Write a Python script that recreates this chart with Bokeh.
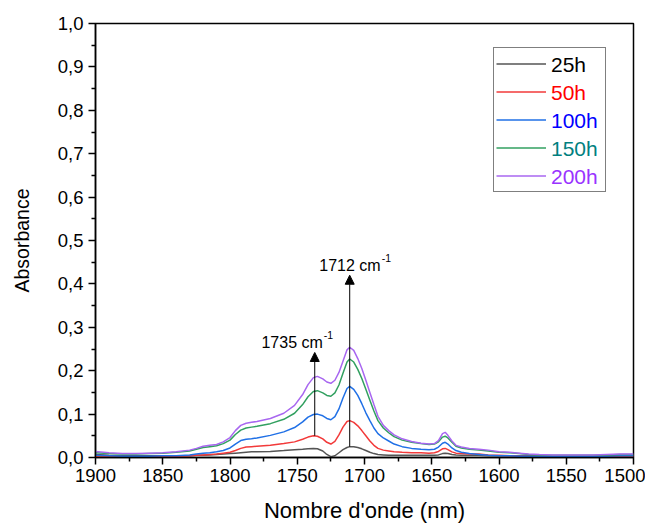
from bokeh.plotting import figure
from bokeh.models import (Range1d, Legend, LegendItem, Arrow, NormalHead, FixedTicker,
                          CustomJSTickFormatter, ColumnDataSource)
from bokeh.core.properties import value
from bokeh.embed import file_html
from bokeh.resources import INLINE

FONT = "Liberation Sans"

# ---------------- data ----------------
wavenumber = [1900, 1890, 1880, 1870, 1860, 1850, 1840, 1830, 1825, 1820, 1815, 1810, 1805, 1800,
              1796, 1792, 1788, 1784, 1780, 1770, 1760, 1752, 1746, 1742, 1738, 1735, 1731, 1728,
              1725, 1722, 1719, 1716, 1713, 1711, 1708, 1705, 1702, 1699, 1696, 1693, 1690, 1686,
              1682, 1678, 1672, 1665, 1658, 1652, 1648, 1645, 1642, 1640, 1638, 1635, 1632, 1628,
              1622, 1615, 1608, 1600, 1592, 1585, 1578, 1570, 1560, 1550, 1540, 1530, 1520, 1510, 1500]

abs_25h = [0.007, 0.005, 0.004, 0.004, 0.004, 0.004, 0.004, 0.004, 0.005, 0.005, 0.006, 0.007, 0.008, 0.009,
           0.010, 0.011, 0.012, 0.013, 0.013, 0.014, 0.016, 0.018, 0.019, 0.020, 0.021, 0.020, 0.015, 0.007,
           0.002, 0.004, 0.011, 0.018, 0.023, 0.025, 0.025, 0.023, 0.020, 0.016, 0.012, 0.009, 0.007, 0.006,
           0.005, 0.005, 0.005, 0.005, 0.005, 0.005, 0.005, 0.006, 0.009, 0.010, 0.009, 0.007, 0.006, 0.005,
           0.005, 0.005, 0.004, 0.004, 0.004, 0.004, 0.004, 0.004, 0.004, 0.004, 0.004, 0.004, 0.004, 0.004, 0.004]

abs_50h = [0.003, 0.002, 0.002, 0.002, 0.002, 0.003, 0.003, 0.004, 0.005, 0.006, 0.007, 0.008, 0.010, 0.012,
           0.016, 0.021, 0.024, 0.025, 0.026, 0.028, 0.032, 0.036, 0.042, 0.047, 0.050, 0.049, 0.043, 0.035,
           0.031, 0.037, 0.052, 0.070, 0.083, 0.085, 0.081, 0.073, 0.062, 0.050, 0.038, 0.028, 0.021, 0.017,
           0.015, 0.013, 0.012, 0.011, 0.011, 0.010, 0.011, 0.014, 0.020, 0.021, 0.018, 0.013, 0.010, 0.009,
           0.008, 0.008, 0.006, 0.005, 0.004, 0.003, 0.003, 0.003, 0.003, 0.003, 0.003, 0.003, 0.003, 0.003, 0.003]

abs_100h = [0.005, 0.004, 0.003, 0.003, 0.003, 0.004, 0.004, 0.006, 0.008, 0.010, 0.011, 0.013, 0.016, 0.022,
            0.031, 0.039, 0.042, 0.043, 0.045, 0.051, 0.059, 0.069, 0.082, 0.093, 0.099, 0.100, 0.096, 0.090,
            0.087, 0.094, 0.112, 0.137, 0.159, 0.164, 0.157, 0.143, 0.124, 0.103, 0.085, 0.068, 0.055, 0.045,
            0.038, 0.031, 0.025, 0.021, 0.019, 0.018, 0.019, 0.024, 0.033, 0.035, 0.031, 0.022, 0.016, 0.012,
            0.009, 0.007, 0.005, 0.004, 0.004, 0.003, 0.003, 0.003, 0.003, 0.003, 0.003, 0.003, 0.003, 0.004, 0.004]

abs_150h = [0.011, 0.009, 0.008, 0.008, 0.009, 0.010, 0.012, 0.015, 0.019, 0.023, 0.025, 0.027, 0.032, 0.040,
            0.053, 0.063, 0.068, 0.070, 0.072, 0.078, 0.088, 0.102, 0.122, 0.140, 0.152, 0.154, 0.149, 0.143,
            0.141, 0.149, 0.167, 0.194, 0.220, 0.227, 0.220, 0.203, 0.182, 0.157, 0.132, 0.107, 0.085, 0.068,
            0.057, 0.048, 0.040, 0.035, 0.032, 0.030, 0.031, 0.036, 0.047, 0.049, 0.045, 0.035, 0.026, 0.022,
            0.019, 0.017, 0.015, 0.012, 0.011, 0.009, 0.007, 0.006, 0.005, 0.005, 0.005, 0.005, 0.006, 0.007, 0.007]

abs_200h = [0.014, 0.011, 0.009, 0.009, 0.010, 0.011, 0.013, 0.017, 0.021, 0.026, 0.028, 0.030, 0.036, 0.046,
            0.062, 0.074, 0.079, 0.081, 0.083, 0.090, 0.102, 0.120, 0.145, 0.168, 0.184, 0.187, 0.181, 0.174,
            0.171, 0.178, 0.196, 0.222, 0.248, 0.254, 0.247, 0.228, 0.205, 0.178, 0.150, 0.122, 0.095, 0.074,
            0.062, 0.052, 0.043, 0.037, 0.033, 0.031, 0.032, 0.039, 0.055, 0.058, 0.051, 0.038, 0.028, 0.024,
            0.021, 0.019, 0.017, 0.013, 0.012, 0.010, 0.008, 0.007, 0.006, 0.006, 0.006, 0.006, 0.007, 0.008, 0.008]

series_labels = ["25h", "50h", "100h", "150h", "200h"]
series_values = [abs_25h, abs_50h, abs_100h, abs_150h, abs_200h]
line_colors = ["#555555", "#f23a3a", "#2070e6", "#32a060", "#a867f0"]
text_colors = ["#000000", "#ff0000", "#0000ff", "#008080", "#9933ff"]

x_ticks = [1900, 1850, 1800, 1750, 1700, 1650, 1600, 1550, 1500]
y_ticks = [0.0, 0.1, 0.2, 0.3, 0.4, 0.5, 0.6, 0.7, 0.8, 0.9, 1.0]

# annotations (peak arrows)
peak_wn = [1737, 1711]
arrow_base = [0.050, 0.025]
arrow_tip = [0.242, 0.420]
note_text = ["1735 cm", "1712 cm"]
note_wn = [1731, 1688]
note_y = [0.266, 0.443]
note_sup = ["-1", "-1"]

# ---------------- figure ----------------
p = figure(width=645, height=531, output_backend="svg", toolbar_location=None,
           x_range=Range1d(1900, 1500), y_range=Range1d(0, 1.0),
           min_border_left=95, min_border_right=12, min_border_top=23, min_border_bottom=74)
p.grid.visible = False
p.outline_line_color = "black"
p.outline_line_width = 1.5
p.background_fill_color = "white"
p.border_fill_color = "white"

renderers = []
for vals, col in zip(series_values, line_colors):
    r = p.line(wavenumber, vals, line_color=col, line_width=1.5)
    renderers.append(r)

# arrows
arr_src = ColumnDataSource(dict(x0=peak_wn, y0=arrow_base, x1=peak_wn, y1=arrow_tip))
p.add_layout(Arrow(end=NormalHead(size=9, fill_color="black", line_color="black", line_width=1),
                   x_start="x0", y_start="y0", x_end="x1", y_end="y1", source=arr_src,
                   line_color="black", line_width=1))

p.text(x=note_wn, y=note_y, text=note_text, text_align="right", text_baseline="alphabetic",
       text_font=value(FONT), text_font_size="16px", text_color="black")
p.text(x=note_wn, y=note_y, text=note_sup, text_align="left", text_baseline="alphabetic",
       x_offset=1, y_offset=-7, text_font=value(FONT), text_font_size="10.5px", text_color="black")

# axes
for ax in (p.xaxis[0], p.yaxis[0]):
    ax.axis_line_width = 1.5
    ax.axis_line_color = "black"
    ax.major_tick_line_width = 1.5
    ax.minor_tick_line_width = 1.5
    ax.major_tick_in = 0
    ax.major_tick_out = 7
    ax.minor_tick_in = 0
    ax.minor_tick_out = 4
    ax.major_label_text_font = FONT
    ax.major_label_text_font_size = "18.5px"
    ax.major_label_text_color = "black"
    ax.axis_label_text_font = FONT
    ax.axis_label_text_font_style = "normal"
    ax.axis_label_text_color = "black"

p.xaxis[0].axis_label_text_font_size = "22px"
p.yaxis[0].axis_label_text_font_size = "19.5px"

x_minor = [t - 25 for t in x_ticks[:-1]]
y_minor = [round(t + 0.05, 2) for t in y_ticks[:-1]]
p.xaxis[0].ticker = FixedTicker(ticks=x_ticks, minor_ticks=x_minor)
p.yaxis[0].ticker = FixedTicker(ticks=y_ticks, minor_ticks=y_minor)
p.yaxis[0].formatter = CustomJSTickFormatter(code="return tick.toFixed(1).replace('.', ',');")
p.xaxis[0].formatter = CustomJSTickFormatter(code="return tick.toFixed(0);")
p.xaxis[0].axis_label = "Nombre d'onde (nm)"
p.yaxis[0].axis_label = "Absorbance"
p.xaxis[0].major_label_standoff = 4
p.yaxis[0].major_label_standoff = 5
p.xaxis[0].axis_label_standoff = 13
p.yaxis[0].axis_label_standoff = 22

# legend: box + glyphs
common = dict(padding=2, spacing=1, glyph_width=50, glyph_height=27, label_height=27,
              label_width=51, label_standoff=6, margin=0,
              label_text_font=FONT, label_text_font_size="21px")
big = Legend(items=[LegendItem(label=" ", renderers=[r]) for r in renderers],
             location=(398, 265), border_line_color="black", border_line_width=1,
             background_fill_color="white", background_fill_alpha=1.0, **common)
p.add_layout(big)
# coloured labels, one per row
for j, (lab, tc) in enumerate(zip(series_labels, text_colors)):
    dummy = p.line(x=[], y=[], line_alpha=0)
    lg = Legend(items=[LegendItem(label=lab, renderers=[dummy])],
                location=(398, 377 - 28 * j), border_line_alpha=0, background_fill_alpha=0,
                label_text_color=tc, **common)
    p.add_layout(lg)

open("out.html", "w").write(file_html(p, INLINE))
